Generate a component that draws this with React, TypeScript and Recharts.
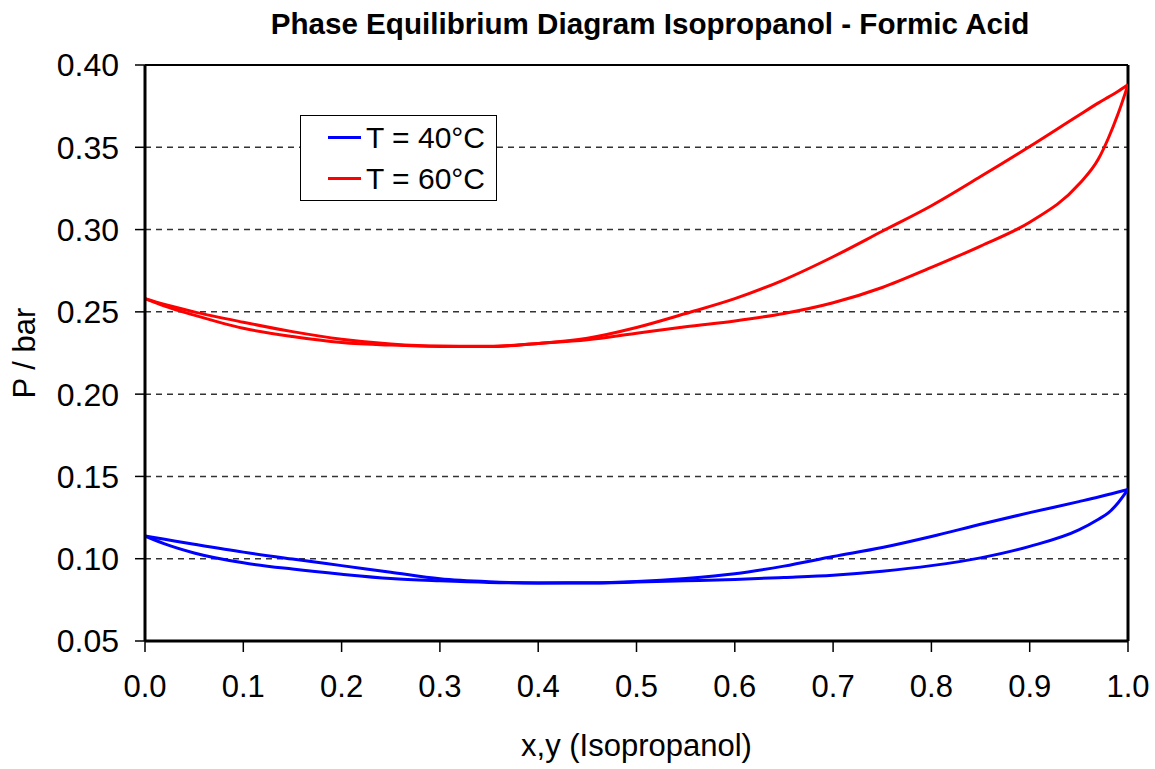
import {
	CartesianGrid,
	Label,
	Legend,
	Line,
	LineChart,
	ReferenceLine,
	XAxis,
	YAxis,
} from "recharts";

// mole fraction of isopropanol (liquid x for bubble line, vapour y for dew line)
const X_GRID = [
	0, 0.02, 0.05, 0.1, 0.15, 0.2, 0.25, 0.3, 0.35, 0.4, 0.45, 0.5, 0.55, 0.6, 0.65,
	0.7, 0.75, 0.8, 0.85, 0.9, 0.95, 0.97, 0.98, 0.99, 1.0,
];

// P / bar at T = 40°C
const P40_BUBBLE = [
	0.1138, 0.1118, 0.1088, 0.104, 0.0998, 0.0958, 0.0918, 0.0878, 0.086, 0.0853,
	0.0854, 0.0862, 0.088, 0.0908, 0.0955, 0.1013, 0.1068, 0.1135, 0.1209, 0.128,
	0.1347, 0.1375, 0.139, 0.1405, 0.1421,
];
const P40_DEW = [
	0.1138, 0.109, 0.1035, 0.0975, 0.0937, 0.0906, 0.088, 0.0866, 0.0856, 0.0852,
	0.0852, 0.0858, 0.0866, 0.0874, 0.0886, 0.09, 0.0924, 0.0958, 0.1005, 0.1075,
	0.1175, 0.124, 0.1278, 0.134, 0.1421,
];

// P / bar at T = 60°C
const P60_BUBBLE = [
	0.258, 0.2545, 0.25, 0.2437, 0.238, 0.2334, 0.2305, 0.2292, 0.2291, 0.2308,
	0.234, 0.2405, 0.249, 0.258, 0.2695, 0.2835, 0.299, 0.3145, 0.3322, 0.3505,
	0.3695, 0.377, 0.3805, 0.384, 0.388,
];
const P60_DEW = [
	0.258, 0.2535, 0.248, 0.24, 0.235, 0.2314, 0.2298, 0.229, 0.2289, 0.2308,
	0.233, 0.237, 0.241, 0.2445, 0.249, 0.2555, 0.2648, 0.277, 0.29, 0.3045,
	0.3275, 0.343, 0.3555, 0.3705, 0.388,
];

const X_TICKS = [0, 0.1, 0.2, 0.3, 0.4, 0.5, 0.6, 0.7, 0.8, 0.9, 1.0];
const Y_TICKS = [0.05, 0.1, 0.15, 0.2, 0.25, 0.3, 0.35, 0.4];

const LEGEND_ITEMS = [
	{ label: "T = 40°C", color: "#0000ff" },
	{ label: "T = 60°C", color: "#ff0000" },
];

const FONT = "'Liberation Sans', Arial, sans-serif";

const toPoints = (values: number[]) =>
	X_GRID.map((x, i) => ({ x, p: values[i] }));

const curves = [
	{ key: "b40", color: "#0000ff", data: toPoints(P40_BUBBLE) },
	{ key: "d40", color: "#0000ff", data: toPoints(P40_DEW) },
	{ key: "b60", color: "#ff0000", data: toPoints(P60_BUBBLE) },
	{ key: "d60", color: "#ff0000", data: toPoints(P60_DEW) },
];

function LegendBox() {
	return (
		<div
			style={{
				boxSizing: "border-box",
				width: 197,
				height: 86,
				border: "1px solid #000",
				background: "#fff",
				paddingTop: 1,
				fontFamily: FONT,
				fontSize: 30,
				color: "#000",
			}}
		>
			{LEGEND_ITEMS.map((item) => (
				<div
					key={item.label}
					style={{ display: "flex", alignItems: "center", height: 41, paddingLeft: 27 }}
				>
					<span
						style={{ display: "inline-block", width: 33, height: 3, background: item.color }}
					/>
					<span style={{ marginLeft: 5, whiteSpace: "nowrap" }}>{item.label}</span>
				</div>
			))}
		</div>
	);
}

export default function App() {
	return (
		<div
			style={{
				position: "absolute",
				left: 0,
				top: 0,
				width: 1155,
				height: 769,
				background: "#fff",
				fontFamily: FONT,
			}}
		>
			<div
				style={{
					position: "absolute",
					left: 0,
					width: 1300,
					top: 7,
					textAlign: "center",
					fontWeight: "bold",
					fontSize: 29.6,
					color: "#000",
					zIndex: 2,
				}}
			>
				Phase Equilibrium Diagram Isopropanol - Formic Acid
			</div>
			<LineChart
				width={1155}
				height={769}
				margin={{ top: 65, right: 27, left: 10, bottom: 68 }}
			>
				<CartesianGrid
					vertical={false}
					stroke="#333"
					strokeWidth={1.5}
					strokeDasharray="6 5"
				/>
				<XAxis
					dataKey="x"
					type="number"
					domain={[0, 1]}
					ticks={X_TICKS}
					allowDataOverflow
					height={60}
					axisLine={{ stroke: "#000", strokeWidth: 3 }}
					tickLine={{ stroke: "#000", strokeWidth: 1.5 }}
					tickSize={11}
					tickMargin={23}
					tick={{ fill: "#000", fontSize: 31, fontFamily: FONT }}
					tickFormatter={(v) => Number(v).toFixed(1)}
				>
					<Label
						content={({ viewBox }: any) => (
							<text
								x={viewBox.x + viewBox.width / 2}
								y={756}
								textAnchor="middle"
								fontSize={31}
								fontFamily={FONT}
								fill="#000"
							>
								x,y (Isopropanol)
							</text>
						)}
					/>
				</XAxis>
				<YAxis
					type="number"
					domain={[0.05, 0.4]}
					ticks={Y_TICKS}
					allowDataOverflow
					width={135}
					axisLine={{ stroke: "#000", strokeWidth: 3 }}
					tickLine={{ stroke: "#000", strokeWidth: 1.5 }}
					tickSize={10}
					tickMargin={16}
					tick={{ fill: "#000", fontSize: 32, fontFamily: FONT }}
					tickFormatter={(v) => Number(v).toFixed(2)}
				>
					<Label
						content={({ viewBox }: any) => {
							const cy = viewBox.y + viewBox.height / 2;
							return (
								<text
									x={24}
									y={cy}
									transform={`rotate(-90, 24, ${cy})`}
									textAnchor="middle"
									dominantBaseline="central"
									fontSize={31}
									fontFamily={FONT}
									fill="#000"
								>
									P / bar
								</text>
							);
						}}
					/>
				</YAxis>
				<ReferenceLine y={0.4} stroke="#000" strokeWidth={2} />
				<ReferenceLine x={1} stroke="#000" strokeWidth={3} />
				{curves.map((c) => (
					<Line
						key={c.key}
						data={c.data}
						dataKey="p"
						type="monotone"
						stroke={c.color}
						strokeWidth={3}
						dot={false}
						activeDot={false}
						legendType="none"
						isAnimationActive={false}
					/>
				))}
				<Legend
					verticalAlign="middle"
					align="center"
					wrapperStyle={{ left: 300, top: 115, width: 197, height: 86 }}
					content={() => <LegendBox />}
				/>
			</LineChart>
		</div>
	);
}
